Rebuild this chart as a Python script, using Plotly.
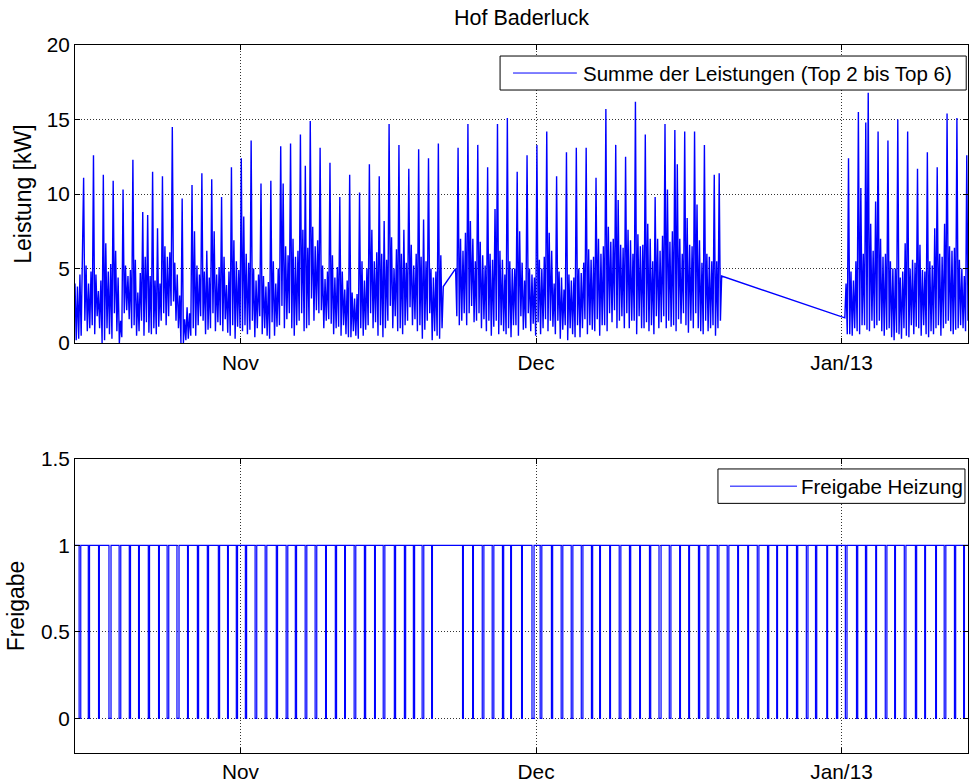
import pandas as pd
import plotly.graph_objects as go

# ---------------------------------------------------------------------------
# Leistung (Summe Top 2 bis Top 6) in kW, 3-Stunden-Werte, drei Messabschnitte
# (eine Zeile = ein Tag)
# ---------------------------------------------------------------------------
start_abschnitt_1 = "2012-10-15 05:00"
leistung_abschnitt_1 = [
    4.0, 0.2, 3.8, 0.3, 4.6, 0.5, 5.8, 11.1,
    1.5, 5.2, 0.8, 4.0, 1.0, 4.8, 1.2, 12.6,
    0.6, 4.6, 1.8, 3.5, 1.0, 4.2, 0.0, 11.3,
    0.2, 6.7, 1.0, 4.8, 0.6, 5.3, 0.3, 10.9,
    2.0, 6.2, 0.8, 4.4, 0.0, 1.5, 0.4, 10.3,
    2.0, 5.2, 2.2, 4.5, 1.6, 4.9, 1.0, 12.3,
    1.2, 5.6, 0.5, 3.4, 0.8, 4.7, 1.5, 8.8,
    0.5, 5.8, 1.4, 8.6, 0.7, 4.5, 0.6, 11.5,
    1.0, 4.2, 0.6, 7.7, 1.1, 4.0, 1.5, 11.2,
    2.0, 6.5, 1.2, 5.8, 1.8, 6.1, 2.5, 14.5,
    2.8, 5.4, 1.5, 4.6, 1.0, 3.2, 0.0, 9.7,
    0.0, 1.6, 0.2, 2.4, 0.3, 2.0, 0.5, 10.6,
    1.0, 7.5, 0.5, 5.2, 1.2, 4.6, 1.8, 11.4,
    1.5, 4.8, 0.6, 6.2, 0.9, 4.4, 1.0, 11.0,
    2.0, 7.5, 0.8, 4.6, 1.4, 5.1, 1.2, 9.8,
    0.8, 5.8, 1.6, 3.9, 0.7, 4.8, 0.5, 11.8,
    1.2, 6.9, 0.3, 5.5, 1.1, 4.9, 1.0, 12.4,
    0.8, 8.5, 1.2, 6.0, 0.6, 5.4, 0.9, 13.6,
    1.5, 5.0, 0.4, 4.2, 1.0, 4.6, 1.8, 10.7,
    0.6, 4.5, 1.0, 3.8, 0.5, 4.1, 0.3, 10.9,
    1.4, 5.5, 0.5, 4.0, 1.1, 5.0, 1.2, 13.2,
    2.5, 10.7, 1.0, 6.5, 1.6, 5.9, 2.0, 13.4,
    1.0, 7.0, 0.5, 5.8, 1.2, 6.2, 1.5, 14.0,
    2.0, 7.6, 0.8, 11.9, 1.0, 6.4, 1.2, 14.9,
    3.0, 7.8, 1.5, 6.5, 2.2, 6.9, 2.0, 13.1,
    2.2, 5.2, 1.0, 4.3, 1.5, 4.8, 1.6, 12.1,
    1.3, 5.9, 0.6, 4.4, 1.0, 5.1, 1.1, 9.8,
    0.5, 4.8, 1.2, 3.6, 0.6, 4.2, 0.4, 11.3,
    0.4, 3.4, 0.8, 3.0, 0.5, 3.3, 0.3, 10.1,
    1.0, 5.5, 0.5, 4.2, 0.9, 5.0, 1.2, 12.0,
    2.0, 7.6, 1.0, 5.5, 1.4, 6.1, 0.5, 11.2,
    1.2, 6.0, 0.4, 8.2, 1.0, 5.6, 1.5, 14.7,
    2.5, 7.1, 1.0, 5.0, 1.8, 6.3, 0.8, 13.3,
    1.0, 6.0, 0.6, 7.6, 1.2, 5.4, 1.5, 11.7,
    2.4, 6.6, 1.2, 5.2, 1.6, 6.0, 0.8, 13.0,
    1.2, 5.8, 0.3, 8.3, 0.9, 5.5, 1.5, 12.4,
    2.0, 5.0, 0.2, 4.4, 0.8, 4.8, 0.5, 13.4,
    0.3, 5.9, 1.0, 3.8,
]

start_abschnitt_2 = "2012-11-22 20:00"
leistung_abschnitt_2 = [
    5.0, 1.8, 13.1, 1.2, 7.0, 1.5, 6.2, 2.0,
    7.4, 1.2, 14.7, 2.0, 8.2, 2.5, 7.0, 1.4,
    5.5, 1.5, 13.3, 2.0, 6.8, 1.0, 5.9, 1.6,
    5.2, 0.8, 11.8, 1.5, 6.0, 0.5, 5.6, 1.1,
    9.0, 1.5, 14.7, 0.6, 6.2, 1.2, 5.6, 0.8,
    4.6, 0.6, 15.1, 1.0, 5.5, 0.4, 5.0, 1.2,
    5.0, 1.2, 11.5, 0.5, 7.5, 1.8, 5.4, 0.9,
    4.2, 1.0, 12.6, 2.0, 5.0, 0.8, 4.6, 1.3,
    4.4, 0.5, 13.3, 1.4, 5.6, 0.6, 5.0, 1.0,
    5.8, 1.6, 14.2, 0.8, 7.4, 1.5, 6.2, 1.1,
    4.0, 0.6, 11.2, 1.5, 4.8, 0.3, 4.4, 0.9,
    3.6, 1.2, 12.8, 0.2, 4.6, 1.0, 4.2, 0.6,
    4.4, 0.4, 13.1, 1.2, 5.0, 0.4, 4.7, 1.0,
    5.4, 1.6, 13.1, 0.6, 6.3, 1.2, 5.6, 0.9,
    5.8, 0.8, 11.1, 1.6, 7.0, 0.5, 6.0, 1.2,
    6.5, 1.2, 15.7, 0.8, 7.8, 2.0, 6.8, 1.4,
    7.0, 2.2, 13.3, 1.0, 9.6, 1.5, 6.6, 1.8,
    6.4, 1.0, 12.5, 2.0, 7.6, 1.0, 6.9, 1.5,
    6.0, 1.5, 16.2, 0.6, 7.3, 1.8, 6.5, 1.0,
    6.6, 1.0, 14.0, 1.4, 8.0, 0.8, 7.0, 1.2,
    5.5, 0.6, 9.8, 1.8, 7.0, 1.0, 6.2, 1.4,
    7.2, 1.8, 14.7, 1.0, 10.3, 1.5, 6.8, 1.1,
    7.5, 1.2, 14.3, 0.8, 12.0, 1.6, 7.0, 1.3,
    6.0, 2.0, 14.2, 1.2, 8.4, 0.7, 6.6, 1.5,
    6.5, 1.0, 14.2, 2.0, 9.3, 1.0, 6.9, 0.8,
    5.4, 0.6, 13.3, 1.5, 6.0, 0.8, 5.8, 1.0,
    5.5, 1.2, 11.3, 0.5, 5.5, 1.0, 11.4, 1.5,
    4.5,
]

start_abschnitt_3 = "2013-01-01 08:00"
leistung_abschnitt_3 = [
    1.7, 4.0, 0.6, 12.4, 0.6, 4.8, 0.5, 4.2,
    1.0, 5.5, 0.8, 15.5, 0.6, 10.4, 1.2, 6.0,
    1.2, 14.8, 0.9, 16.8, 0.8, 8.0, 1.5, 6.2,
    1.0, 9.5, 1.2, 14.2, 1.5, 7.0, 0.8, 5.8,
    0.5, 6.0, 0.9, 13.6, 1.0, 5.5, 0.4, 5.0,
    0.2, 5.0, 0.7, 15.0, 0.6, 4.4, 0.3, 4.8,
    1.0, 6.7, 0.5, 14.2, 0.4, 5.0, 1.2, 5.6,
    0.6, 5.4, 1.1, 11.7, 1.0, 6.6, 0.5, 4.9,
    1.2, 4.8, 0.6, 12.8, 0.4, 5.5, 0.8, 5.2,
    0.6, 7.7, 1.0, 11.8, 1.2, 6.0, 0.5, 5.8,
    1.0, 8.0, 1.3, 15.4, 1.5, 6.5, 0.8, 6.2,
    0.6, 6.4, 0.9, 15.1, 1.0, 5.6, 1.2, 5.0,
    1.0, 4.5, 0.8, 12.6, 1.5,
]

# ---------------------------------------------------------------------------
# Freigabe Heizung: taegliche Sperrzeiten (Mitte in Tagen ab 15.10.2012 0:00,
# Dauer in Stunden)
# ---------------------------------------------------------------------------
sperre_mitte_tage = [
    0.71, 1.62, 2.64, 3.76, 4.77, 5.78, 6.70, 7.71, 8.73, 9.64,
    10.66, 11.67, 12.69, 13.70, 14.82, 15.73, 16.64, 17.56, 18.57, 19.59,
    20.70, 21.72, 22.63, 23.65, 24.66, 25.68, 26.69, 27.61, 28.62, 29.64,
    30.65, 31.57, 32.68, 33.70, 34.61, 35.52, 36.44,
    39.58, 40.60, 41.62, 42.63, 43.65, 44.46, 45.57, 46.69, 47.50, 48.62,
    49.63, 50.65, 51.67, 52.68, 53.49, 54.51, 55.52, 56.54, 57.55, 58.57,
    59.58, 60.60, 61.61, 62.53, 63.54, 64.45, 65.47, 66.48, 67.50, 68.52,
    69.53, 70.55, 71.46, 72.48, 73.49, 74.51, 75.42, 76.54, 77.55, 78.47,
    79.58, 80.49, 81.51, 82.52, 83.43, 84.45, 85.56, 86.48, 87.59, 88.50,
    89.52, 90.43,
]
sperre_dauer_h = [
    4, 3, 2, 5, 4, 3, 2, 3, 2, 4, 5, 2, 3, 3, 3, 2,
    3, 3, 4, 4, 3, 4, 3, 4, 4, 2, 3, 2, 4, 3, 2, 4,
    3, 3, 3, 4, 2,
    2, 2, 4, 4, 3, 2, 2, 5,
    4, 3, 4, 4, 4, 3, 2, 2, 4, 3, 2, 3, 5, 4, 2, 2,
    3, 4, 4, 4, 2, 2, 4, 3, 2, 2, 3, 4, 3, 2, 3,
    4,
    3, 3, 2, 4, 2, 4, 3, 2, 2, 4, 3, 2,
]

bezugstag = "2012-10-15 00:00"
zeitraum = ["2012-10-15 05:00", "2013-01-13 20:00"]
monats_ticks = ["2012-11-01", "2012-12-01", "2013-01-01"]
monats_labels = ["Nov", "Dec", "Jan/13"]

# ---------------------------------------------------------------------------
# Zeitachsen aufbauen
# ---------------------------------------------------------------------------
zeit, leistung = [], []
for beginn, werte in [
    (start_abschnitt_1, leistung_abschnitt_1),
    (start_abschnitt_2, leistung_abschnitt_2),
    (start_abschnitt_3, leistung_abschnitt_3),
]:
    zeit += list(pd.date_range(beginn, periods=len(werte), freq="3h"))
    leistung += werte

t0 = pd.Timestamp(bezugstag)
frei_x = [pd.Timestamp(zeitraum[0])]
frei_y = [1]
for mitte, dauer in zip(sperre_mitte_tage, sperre_dauer_h):
    m = t0 + pd.Timedelta(days=mitte)
    frei_x += [m - pd.Timedelta(hours=dauer / 2), m + pd.Timedelta(hours=dauer / 2)]
    frei_y += [0, 1]
frei_x.append(pd.Timestamp(zeitraum[1]))
frei_y.append(1)

BLAU = "#0000ff"
SCHRIFT = "Liberation Sans, Arial, sans-serif"
FS = 20.8

fig = go.Figure()
fig.add_trace(go.Scatter(
    x=zeit, y=leistung, mode="lines", line=dict(color=BLAU, width=1.4),
    xaxis="x", yaxis="y", showlegend=False,
))
fig.add_trace(go.Scatter(
    x=frei_x, y=frei_y, mode="lines", line=dict(color=BLAU, width=1.2, shape="hv"),
    xaxis="x2", yaxis="y2", showlegend=False,
))

achse = dict(
    showline=True, linecolor="black", linewidth=1, mirror="allticks",
    ticks="inside", ticklen=5, tickcolor="black", automargin=False,
    showgrid=True, gridcolor="#333333", griddash="1px,2px", gridwidth=1,
    zeroline=False, tickfont=dict(family=SCHRIFT, size=FS, color="black"),
)
x_achse = dict(achse, type="date", range=zeitraum,
               tickvals=monats_ticks, ticktext=monats_labels)

fig.update_layout(
    width=970, height=784,
    margin=dict(l=75, r=2, t=45, b=31),
    paper_bgcolor="white", plot_bgcolor="white",
    font=dict(family=SCHRIFT, size=FS, color="black"),
    title=dict(text="Hof Baderluck", x=0.5, xref="paper", xanchor="center",
               y=1 - 17 / 784, yref="container", yanchor="middle",
               font=dict(family=SCHRIFT, size=21.5, color="black")),
    xaxis=dict(x_achse, domain=[0, 1], anchor="y", ticklabelstandoff=1),
    yaxis=dict(achse, domain=[0.5789, 1.0], range=[0, 20],
               tickvals=[0, 5, 10, 15, 20],
               title=dict(text="Leistung [kW]", standoff=8,
                          font=dict(family=SCHRIFT, size=23))),
    xaxis2=dict(x_achse, domain=[0, 1], anchor="y2", ticklabelstandoff=0),
    yaxis2=dict(achse, domain=[0.0, 0.4153], range=[-0.2, 1.5],
                tickvals=[0, 0.5, 1, 1.5], ticktext=["0", "0.5", "1", "1.5"],
                title=dict(text="Freigabe", standoff=9,
                           font=dict(family=SCHRIFT, size=23))),
)

# Legenden im MATLAB-Stil (Rahmen, Linienmuster, Text)
def legende(xr, yr, box, linie, text_x, text):
    fig.add_shape(type="rect", xref=xr, yref=yr, x0=box[0], x1=box[1],
                  y0=box[2], y1=box[3], line=dict(color="black", width=1),
                  fillcolor="white", layer="above")
    ym = (box[2] + box[3]) / 2
    fig.add_shape(type="line", xref=xr, yref=yr, x0=linie[0], x1=linie[1],
                  y0=ym, y1=ym, line=dict(color=BLAU, width=1), layer="above")
    fig.add_annotation(xref=xr, yref=yr, x=text_x, y=ym, text=text,
                       showarrow=False, xanchor="left", yanchor="middle",
                       font=dict(family=SCHRIFT, size=20.5, color="black"))

legende("x domain", "y domain", (0.476, 0.998, 0.849, 0.963), (0.4905, 0.562),
        0.567, "Summe der Leistungen (Top 2 bis Top 6)")
legende("x2 domain", "y2 domain", (0.720, 0.9966, 0.849, 0.966), (0.7335, 0.8085),
        0.811, "Freigabe Heizung")

fig.write_html("out.html")
